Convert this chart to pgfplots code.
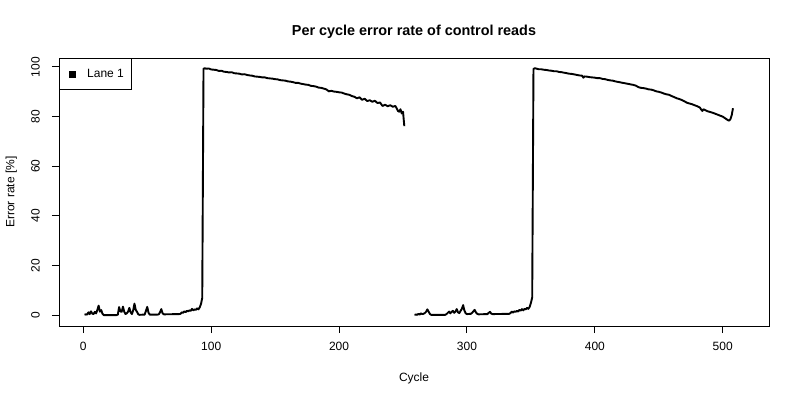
\documentclass[border=0pt]{standalone}
\usepackage{fontspec}
\setmainfont{Liberation Sans}
\usepackage{pgfplots}
\pgfplotsset{compat=1.18}
\usepackage{pgfplotstable}

\pgfplotstableread{
x y
1 0.2
2 0.4
3 0.3
4 1.2
5 0.5
6 1.6
7 0.7
8 0.5
9 1.4
10 0.8
11 2.2
12 3.9
13 1.5
14 2.1
15 0.6
16 0.1
26 0.1
27 0.3
28 3.3
29 1.6
30 1.4
31 3.5
32 1.5
33 0.5
34 0.8
35 1.5
36 3.0
37 1.2
38 0.5
39 2.0
40 4.7
41 2.2
42 1.4
43 0.4
44 0.2
48 0.3
49 1.8
50 3.4
51 1.0
52 0.3
58 0.3
59 0.4
60 1.2
61 2.5
62 0.8
63 0.4
75 0.5
76 0.6
77 1.2
78 1.0
79 1.6
80 1.3
81 1.8
82 1.6
83 2.0
84 1.8
85 2.6
86 2.0
87 2.4
88 2.2
89 2.8
90 2.4
91 3.2
92 4.5
93 7.0
94 99.3
95 99.5
96 99.3
98 99.4
100 99.0
102 98.9
104 98.8
106 98.4
108 98.5
110 98.1
112 98.0
114 97.8
116 97.9
118 97.5
120 97.4
122 97.3
124 97.0
126 97.1
128 96.8
130 96.6
132 96.5
134 96.2
136 96.1
138 96.0
140 95.8
142 95.8
144 95.5
146 95.4
148 95.3
150 95.1
152 95.0
154 94.7
156 94.6
158 94.5
160 94.2
162 94.1
164 93.9
166 93.6
168 93.6
170 93.3
172 93.1
174 92.9
176 92.8
178 92.4
180 92.3
182 92.1
184 91.7
186 91.6
188 91.3
190 91.0
192 90.2
194 90.4
196 90.1
198 90.0
200 89.8
202 89.7
204 89.3
206 89.0
208 88.8
210 88.3
212 88.0
214 87.4
216 87.8
218 86.8
220 87.2
222 86.3
224 86.6
226 86.0
228 86.4
230 85.5
232 85.7
234 84.3
236 84.8
238 84.2
240 84.6
242 84.0
244 84.3
245 83.4
246 82.3
247 82.0
248 83.0
249 81.3
250 82.0
251 76.2
}\dataA

\pgfplotstableread{
x y
259 0.2
260 0.3
261 0.2
262 0.6
263 0.3
264 0.8
265 0.5
266 0.6
267 0.9
268 1.4
269 2.4
270 1.5
271 0.5
272 0.2
283 0.2
284 0.5
285 1.0
286 1.5
287 0.8
288 1.4
289 1.8
290 1.0
291 1.5
292 2.5
293 1.2
294 0.9
295 1.8
296 2.6
297 4.1
298 1.9
299 0.8
300 0.5
303 0.6
304 1.0
305 1.6
306 2.2
307 1.2
308 0.6
309 0.4
316 0.5
317 1.0
318 1.4
319 0.7
320 0.5
333 0.6
334 0.9
335 1.5
336 1.1
337 1.6
338 1.4
339 1.8
340 1.5
341 2.2
342 1.9
343 2.5
344 2.0
345 2.6
346 2.4
347 3.0
348 2.6
349 3.4
350 5.0
351 7.2
352 99.2
353 99.5
354 99.4
356 99.1
358 99.1
360 98.9
362 98.8
364 98.6
366 98.5
368 98.3
370 98.3
372 98.0
374 97.9
376 97.7
378 97.5
380 97.3
382 97.2
384 97.0
386 96.8
388 96.6
390 96.5
391 95.7
392 96.2
394 96.1
396 95.9
398 95.8
400 95.7
402 95.5
404 95.5
406 95.2
408 95.1
410 94.8
412 94.6
414 94.5
416 94.2
418 94.0
420 93.8
422 93.6
424 93.4
426 93.2
428 93.0
430 92.8
432 92.5
434 91.9
436 91.6
438 91.5
440 91.3
442 91.0
444 90.9
446 90.6
448 90.2
450 90.0
452 89.7
454 89.3
456 89.0
458 88.8
460 88.3
462 87.9
464 87.4
466 87.1
468 86.7
470 86.2
472 85.6
474 85.3
476 85.0
478 84.6
480 84.2
482 83.7
484 82.3
485 83.0
486 82.7
488 82.2
490 81.9
492 81.6
494 81.2
496 80.8
498 80.4
500 80.0
502 79.3
504 78.6
505 78.4
506 79.0
507 80.6
508 83.4
}\dataB

\begin{document}
\begin{tikzpicture}[x=1pt,y=1pt]
\path[use as bounding box] (0,0) rectangle (800,400);
\begin{axis}[
  at={(59pt,74pt)}, anchor=south west,
  scale only axis, width=710.3pt, height=267.7pt,
  xmin=-19, xmax=536.4, ymin=-4.3, ymax=103.5,
  xtick={0,100,200,300,400,500},
  ytick={0,20,40,60,80,100},
  tick align=outside, xtick pos=bottom, ytick pos=left,
  major tick length=7pt,
  every tick/.style={black, line width=1pt},
  axis line style={black, line width=1pt},
  /pgf/number format/assume math mode=true,
  ticklabel style={font=\fontsize{12pt}{14pt}\selectfont},
  xticklabel style={anchor=north, inner sep=0pt, yshift=-9pt},
  yticklabel style={xshift=-12pt, rotate=90, anchor=south, inner sep=0pt},
  legend style={at={(0,1)}, anchor=north west, draw=black, line width=1pt,
    font=\fontsize{12pt}{14pt}\selectfont,
    inner xsep=7.3pt, inner ysep=10.5pt, column sep=11pt,
    nodes={inner sep=0pt}},
  legend image code/.code={\path[draw=none,fill=none] (-2.2pt,-3.6pt) rectangle (7.2pt,3.6pt); \fill[black,draw=none] (0pt,-3.6pt) rectangle (7.2pt,3.6pt);},
]
\addplot[black, line width=1.9pt, line join=round] table[x=x,y=y] {\dataA};
\addlegendentry{Lane 1}
\addplot[black, line width=1.9pt, line join=round, forget plot] table[x=x,y=y] {\dataB};
\end{axis}
\node[anchor=base, inner sep=0pt, font=\fontsize{14.4pt}{17pt}\selectfont\bfseries] at (414,364.5) {Per cycle error rate of control reads};
\node[anchor=base, inner sep=0pt, font=\fontsize{12pt}{14pt}\selectfont] at (414,18.7) {Cycle};
\node[rotate=90, anchor=base, inner sep=0pt, font=\fontsize{12pt}{14pt}\selectfont] at (14.3,208) {Error rate [\%]};
\end{tikzpicture}
\end{document}
